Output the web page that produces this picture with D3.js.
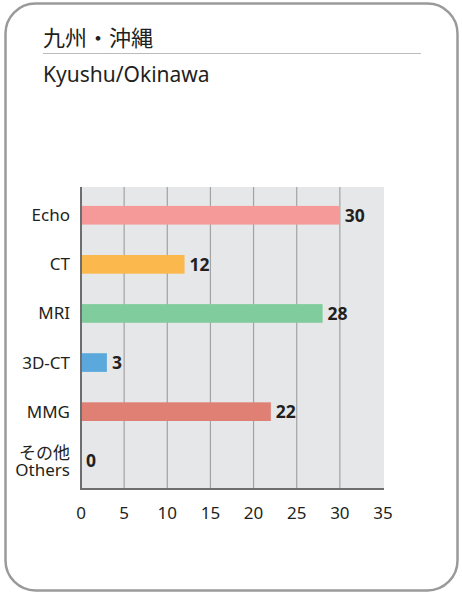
<!DOCTYPE html>
<html>
<head>
<meta charset="utf-8">
<script src="https://cdn.jsdelivr.net/npm/d3@7"></script>
<style>
  body { margin: 0; background: #fff; }
  text { font-family: "Noto Sans", "Noto Sans CJK JP", sans-serif; }
</style>
</head>
<body>
<script>
var categories = ['Echo', 'CT', 'MRI', '3D-CT', 'MMG', 'その他\nOthers'];
var values = [30, 12, 28, 3, 22, 0];
var colors = ['#f59a98', '#fbb84c', '#80cc9c', '#5ba9dc', '#e07f74', '#999999'];
var ticks = [0, 5, 10, 15, 20, 25, 30, 35];

var width = 462,
    height = 597;

var svg = d3.select('body')
  .append('svg')
  .attr('width', width)
  .attr('height', height);

// frame
svg.append('rect')
  .attr('x', 5.5).attr('y', 3.5)
  .attr('width', 452).attr('height', 587)
  .attr('rx', 30).attr('ry', 30)
  .attr('fill', '#fff')
  .attr('stroke', '#9a9a9a')
  .attr('stroke-width', 2.5);

svg.append('text')
  .attr('x', 43).attr('y', 46)
  .attr('font-size', 22)
  .attr('fill', '#231f20')
  .text('九州・沖縄');

svg.append('line')
  .attr('x1', 43).attr('x2', 421)
  .attr('y1', 53.5).attr('y2', 53.5)
  .attr('stroke', '#bbb');

svg.append('text')
  .attr('x', 43).attr('y', 82)
  .attr('font-size', 21)
  .attr('fill', '#231f20')
  .text('Kyushu/Okinawa');

var x = d3.scaleLinear().domain([0, 35]).range([81, 383]);
var y = d3.scaleBand()
  .domain(categories)
  .range([187, 489])
  .paddingInner(0.62)
  .paddingOuter(0.385);

// plot background
svg.append('rect')
  .attr('x', 81).attr('y', 187)
  .attr('width', 303).attr('height', 302)
  .attr('fill', '#e6e7e9');

// grid
svg.append('g')
  .selectAll('line')
  .data(ticks.slice(1, -1))
  .enter()
  .append('line')
  .attr('x1', function(d) { return x(d); })
  .attr('x2', function(d) { return x(d); })
  .attr('y1', 187).attr('y2', 489)
  .attr('stroke', '#a3a3a3')
  .attr('stroke-width', 1.2);

// bars
svg.append('g')
  .selectAll('rect')
  .data(values)
  .enter()
  .append('rect')
  .attr('x', x(0))
  .attr('y', function(d, i) { return y(categories[i]); })
  .attr('width', function(d) { return x(d) - x(0); })
  .attr('height', y.bandwidth())
  .attr('fill', function(d, i) { return colors[i]; });

// value labels
svg.append('g')
  .selectAll('text')
  .data(values)
  .enter()
  .append('text')
  .attr('x', function(d) { return x(d) + 5; })
  .attr('y', function(d, i) { return y(categories[i]) + y.bandwidth() / 2 + 6.5; })
  .attr('font-size', 17.5)
  .attr('font-weight', 'bold')
  .attr('fill', '#231f20')
  .text(function(d) { return d; });

// axes lines
svg.append('line')
  .attr('x1', 81).attr('x2', 81)
  .attr('y1', 187).attr('y2', 490)
  .attr('stroke', '#6d6e70').attr('stroke-width', 2);
svg.append('line')
  .attr('x1', 80).attr('x2', 384)
  .attr('y1', 489).attr('y2', 489)
  .attr('stroke', '#6d6e70').attr('stroke-width', 2);

// x tick labels
svg.append('g')
  .selectAll('text')
  .data(ticks)
  .enter()
  .append('text')
  .attr('x', function(d) { return x(d); })
  .attr('y', 519)
  .attr('text-anchor', 'middle')
  .attr('font-size', 17)
  .attr('fill', '#231f20')
  .text(function(d) { return d; });

// category labels, one text per line
categories.forEach(function(d) {
  var lines = d.split('\n');
  var mid = y(d) + y.bandwidth() / 2;
  lines.forEach(function(l, j) {
    var off = lines.length > 1 ? (j === 0 ? -2 : 15) : 6;
    svg.append('text')
      .attr('x', 70)
      .attr('y', mid + off)
      .attr('text-anchor', 'end')
      .attr('font-size', 17)
      .attr('fill', '#231f20')
      .text(l);
  });
});
</script>
</body>
</html>
